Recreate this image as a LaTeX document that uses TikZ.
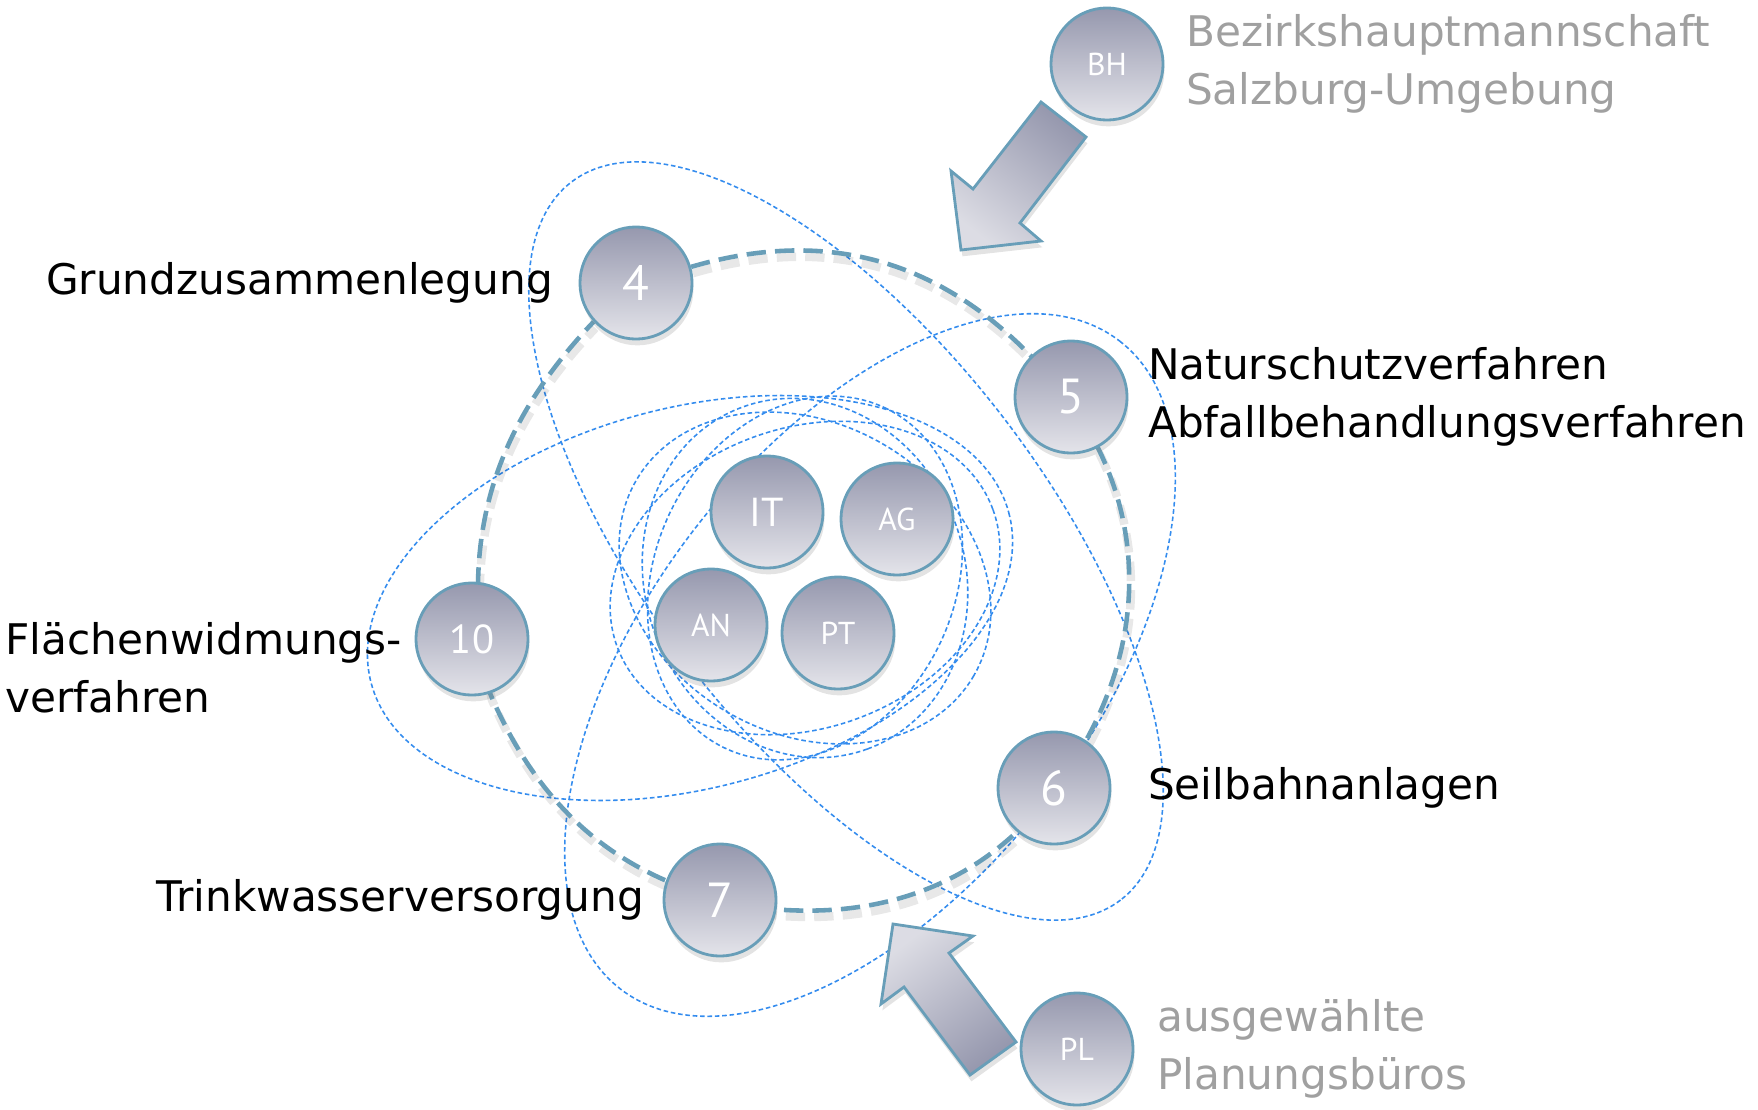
\documentclass[tikz,border=0pt]{standalone}
\usepackage{fontspec}
\setmainfont{DejaVu Sans}
\newfontfamily\ballfont{PT Sans}
\usetikzlibrary{positioning,shadows}
\definecolor{ringblue}{RGB}{104,158,184}
\definecolor{orbitblue}{RGB}{52,140,238}
\definecolor{balltop}{RGB}{150,152,174}
\definecolor{ballbottom}{RGB}{228,228,234}
\definecolor{sidegray}{RGB}{160,160,160}
\pgfdeclarelayer{background}
\pgfsetlayers{background,main}
\tikzset{
  ball/.style={circle, minimum size=1.12cm, inner sep=0pt, draw=ringblue, line width=0.8pt,
    top color=balltop, bottom color=ballbottom, text=white,
    drop shadow={opacity=0.22, shadow xshift=0.4pt, shadow yshift=-1.8pt}},
  bignum/.style={ball, font=\ballfont\fontsize{14}{14}\selectfont},
  midnum/.style={ball, font=\ballfont\fontsize{11.5}{12}\selectfont},
  smallnum/.style={ball, font=\ballfont\fontsize{9}{10}\selectfont},
  sidelabel/.style={inner sep=0pt, align=left, font=\fontsize{12}{16.5}\selectfont},
  ring/.style={draw=ringblue, line width=1.3pt, dash pattern=on 5.5pt off 2.6pt},
  ringshadow/.style={draw=black, opacity=0.09, line width=2.4pt, dash pattern=on 5.5pt off 2.6pt},
  orbit/.style={draw=orbitblue, line width=0.45pt, dash pattern=on 1.3pt off 0.8pt},
  bigarrow/.style={draw=ringblue, line width=0.8pt, top color=balltop, bottom color=ballbottom!90!balltop,
    drop shadow={opacity=0.22, shadow xshift=0.4pt, shadow yshift=-1.8pt}}
}
\begin{document}
\begin{tikzpicture}[x=0.01cm, y=-0.01cm]
\useasboundingbox (0,0) rectangle (1758,1109);

\node[bignum] (n4) at (636,283) {4};
\node[bignum] (n5) at (1071,397) {5};
\node[bignum] (n6) at (1054,788) {6};
\node[bignum] (n7) at (720,900) {7};
\node[midnum] (n10) at (472,639) {10};

\node[midnum] (it) at (767,512) {IT};
\node[smallnum] (ag) at (897,519) {AG};
\node[smallnum] (an) at (711,625) {AN};
\node[smallnum] (pt) at (838,633) {PT};

\node[smallnum] (bh) at (1107,64) {BH};
\node[smallnum] (pl) at (1077,1049) {PL};

\node[sidelabel, left=0.25cm of n4] (t4) {Grundzusammenlegung};
\node[sidelabel, right=0.19cm of n5] (t5) {Naturschutzverfahren\\Abfallbehandlungsverfahren};
\node[sidelabel, right=0.36cm of n6] (t6) {Seilbahnanlagen};
\node[sidelabel, left=0.18cm of n7] (t7) {Trinkwasserversorgung};
\node[sidelabel, left=0.12cm of n10, yshift=-0.29cm] (t10) {Flächenwidmungs-\\verfahren};
\node[sidelabel, text=sidegray, right=0.21cm of bh] (tbh) {Bezirkshauptmannschaft\\Salzburg-Umgebung};
\node[sidelabel, text=sidegray, right=0.22cm of pl] (tpl) {ausgewählte\\Planungsbüros};

\path[bigarrow, shading angle=-38] (1041,102) -- (1086,137) -- (1020,223) -- (1041,241)
  -- (961,250) -- (951,171) -- (973,189) -- cycle;
\path[bigarrow, shading angle=-143] (1016,1042) -- (970,1075) -- (904,987) -- (881,1004)
  -- (893,924) -- (973,936) -- (949,953) -- cycle;

\begin{pgfonlayer}{background}
  \draw[orbit, rotate around={-52.6:(846,541)}] (846,541) ellipse [x radius=452, y radius=200];
  \draw[orbit, rotate around={52.4:(870,665)}] (870,665) ellipse [x radius=409, y radius=222];
  \draw[orbit, rotate around={15:(690,598)}] (690,598) ellipse [x radius=330, y radius=190];
  \foreach \ang/\ra/\rb in {20/200/150, -30/195/155, 65/188/150, -70/182/160}
    \draw[orbit, rotate around={\ang:(805,578)}] (805,578) ellipse [x radius=\ra, y radius=\rb];

  \begin{scope}[transform canvas={xshift=0.5pt, yshift=-1.8pt}]
    \draw[ringshadow] (n4) to[bend left=31] (n5) to[bend left=37] (n6) to[bend left=33] (n7)
      to[bend left=30] (n10) to[bend left=28] (n4);
  \end{scope}
  \draw[ring] (n4) to[bend left=31] (n5) to[bend left=37] (n6) to[bend left=33] (n7)
    to[bend left=30] (n10) to[bend left=28] (n4);
\end{pgfonlayer}

\end{tikzpicture}
\end{document}
